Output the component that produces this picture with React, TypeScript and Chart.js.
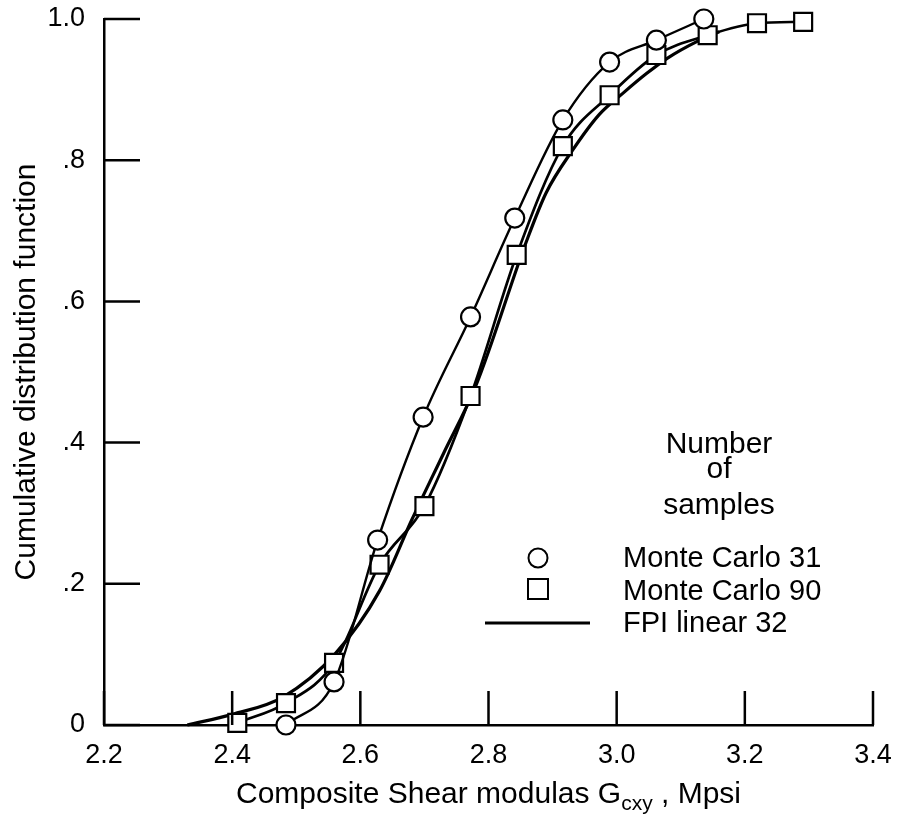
import React, { useEffect, useRef } from 'react';
import { Chart, registerables } from 'chart.js';

Chart.register(...registerables);

const FONT = '"Liberation Sans", Arial, Helvetica, sans-serif';

const xTicks = [2.2, 2.4, 2.6, 2.8, 3.0, 3.2, 3.4];
const xTickLabels = ['2.2', '2.4', '2.6', '2.8', '3.0', '3.2', '3.4'];
const yTicks = [0, 0.2, 0.4, 0.6, 0.8, 1.0];
const yTickLabels = ['0', '.2', '.4', '.6', '.8', '1.0'];

// Monte Carlo, 31 samples (circles)
const mc31X = [2.484, 2.559, 2.627, 2.698, 2.772, 2.841, 2.916, 2.989, 3.062, 3.136];
const mc31Y = [0.0, 0.061, 0.262, 0.436, 0.578, 0.718, 0.857, 0.939, 0.97, 1.0];

// Monte Carlo, 90 samples (squares)
const mc90X = [2.408, 2.484, 2.559, 2.63, 2.7, 2.772, 2.844, 2.916, 2.989, 3.062, 3.142, 3.219, 3.291];
const mc90Y = [0.003, 0.031, 0.088, 0.227, 0.31, 0.466, 0.666, 0.82, 0.892, 0.949, 0.977, 0.994, 0.996];

// FPI linear, 32 (solid curve)
const fpiX = [2.33, 2.4, 2.48, 2.56, 2.63, 2.68, 2.73, 2.78, 2.86, 2.89, 2.931, 2.973, 3.01, 3.047, 3.08, 3.125, 3.16];
const fpiY = [0.0, 0.015, 0.04, 0.1, 0.19, 0.29, 0.385, 0.48, 0.687, 0.754, 0.814, 0.865, 0.895, 0.923, 0.945, 0.968, 0.982];

const legendHeader = ['Number', 'of', 'samples'];
const legendLabels = ['Monte Carlo 31', 'Monte Carlo 90', 'FPI linear 32'];
const xTitleMain = 'Composite Shear modulas G';
const xTitleSub = 'cxy';
const xTitleEnd = ' , Mpsi';
const yTitle = 'Cumulative distribution function';

const toPts = (xs: number[], ys: number[]) => xs.map((x, i) => ({ x, y: ys[i] }));

const decorPlugin = {
  id: 'decor',
  afterDraw(chart: any) {
    const { ctx, chartArea, scales } = chart;
    const xs = scales.x;
    const ys = scales.y;
    ctx.save();
    ctx.strokeStyle = '#000';
    ctx.fillStyle = '#000';
    // inward tick marks
    ctx.lineWidth = 2.5;
    ctx.beginPath();
    xTicks.forEach((v) => {
      const px = xs.getPixelForValue(v);
      ctx.moveTo(px, chartArea.bottom);
      ctx.lineTo(px, chartArea.bottom - 34);
    });
    yTicks.forEach((v) => {
      const py = ys.getPixelForValue(v);
      ctx.moveTo(chartArea.left, py);
      ctx.lineTo(chartArea.left + 36, py);
    });
    ctx.stroke();

    // x-axis title with subscript
    const big = `30px ${FONT}`;
    const small = `21px ${FONT}`;
    ctx.font = big;
    const w1 = ctx.measureText(xTitleMain).width;
    const w3 = ctx.measureText(xTitleEnd).width;
    ctx.font = small;
    const w2 = ctx.measureText(xTitleSub).width;
    const total = w1 + w2 + w3;
    const cx = (chartArea.left + chartArea.right) / 2;
    let tx = cx - total / 2;
    const baseY = 803;
    ctx.textAlign = 'left';
    ctx.textBaseline = 'alphabetic';
    ctx.font = big;
    ctx.fillText(xTitleMain, tx, baseY);
    tx += w1;
    ctx.font = small;
    ctx.fillText(xTitleSub, tx, baseY + 7);
    tx += w2;
    ctx.font = big;
    ctx.fillText(xTitleEnd, tx, baseY);

    // y-axis title
    ctx.save();
    ctx.translate(27, (chartArea.top + chartArea.bottom) / 2);
    ctx.rotate(-Math.PI / 2);
    ctx.textAlign = 'center';
    ctx.textBaseline = 'middle';
    ctx.font = big;
    ctx.fillText(yTitle, 0, 0);
    ctx.restore();

    // legend
    ctx.font = `30px ${FONT}`;
    ctx.textAlign = 'center';
    ctx.textBaseline = 'alphabetic';
    const headBase = [453, 478, 514];
    legendHeader.forEach((t, i) => ctx.fillText(t, 719, headBase[i]));
    ctx.textAlign = 'left';
    ctx.font = `29px ${FONT}`;
    const rowBase = [567, 600, 632];
    legendLabels.forEach((t, i) => ctx.fillText(t, 623, rowBase[i]));
    ctx.lineWidth = 2;
    ctx.beginPath();
    ctx.arc(538, 558, 9.5, 0, Math.PI * 2);
    ctx.stroke();
    ctx.strokeRect(528, 579, 20, 20);
    ctx.lineWidth = 3;
    ctx.beginPath();
    ctx.moveTo(485, 623);
    ctx.lineTo(590, 623);
    ctx.stroke();
    ctx.restore();
  },
};

export default function App() {
  const ref = useRef<HTMLCanvasElement | null>(null);
  useEffect(() => {
    if (!ref.current) return;
    const tickFont = { family: FONT, size: 27 };
    const chart = new Chart(ref.current, {
      type: 'scatter',
      data: {
        datasets: [
          {
            label: 'Monte Carlo 31',
            data: toPts(mc31X, mc31Y),
            showLine: true,
            borderColor: '#000',
            borderWidth: 2.4,
            cubicInterpolationMode: 'monotone',
            pointStyle: 'circle',
            pointRadius: 9.5,
            pointBorderWidth: 2.2,
            pointBackgroundColor: '#fff',
            pointBorderColor: '#000',
            clip: false,
          },
          {
            label: 'Monte Carlo 90',
            data: toPts(mc90X, mc90Y),
            showLine: true,
            borderColor: '#000',
            borderWidth: 2.7,
            cubicInterpolationMode: 'monotone',
            pointStyle: 'rect',
            pointRadius: 12.7,
            pointBorderWidth: 2.2,
            pointBackgroundColor: '#fff',
            pointBorderColor: '#000',
            clip: false,
          },
          {
            label: 'FPI linear 32',
            data: toPts(fpiX, fpiY),
            showLine: true,
            borderColor: '#000',
            borderWidth: 3.2,
            cubicInterpolationMode: 'monotone',
            pointRadius: 0,
            clip: false,
          },
        ],
      } as any,
      options: {
        responsive: false,
        animation: false,
        events: [],
        layout: { padding: { left: 0, right: 25, top: 19, bottom: 0 } },
        plugins: {
          legend: { display: false },
          tooltip: { enabled: false },
          title: { display: false },
        },
        scales: {
          x: {
            type: 'linear',
            min: 2.2,
            max: 3.4,
            afterBuildTicks: (s: any) => {
              s.ticks = xTicks.map((v) => ({ value: v }));
            },
            afterFit: (s: any) => {
              s.height = 93;
            },
            ticks: {
              autoSkip: false,
              maxRotation: 0,
              padding: 0,
              color: '#000',
              font: tickFont,
              callback: (_v: any, i: number) => xTickLabels[i],
            },
            grid: {
              display: true,
              drawOnChartArea: false,
              drawTicks: true,
              tickLength: 14,
              tickColor: 'rgba(0,0,0,0)',
            },
            border: { display: true, color: '#000', width: 2.5 },
          },
          y: {
            type: 'linear',
            min: 0,
            max: 1,
            afterBuildTicks: (s: any) => {
              s.ticks = yTicks.map((v) => ({ value: v }));
            },
            afterFit: (s: any) => {
              s.width = 104;
            },
            ticks: {
              autoSkip: false,
              padding: 0,
              color: '#000',
              font: tickFont,
              callback: (_v: any, i: number) => yTickLabels[i],
            },
            grid: {
              display: true,
              drawOnChartArea: false,
              drawTicks: true,
              tickLength: 19,
              tickColor: 'rgba(0,0,0,0)',
            },
            border: { display: true, color: '#000', width: 2.5 },
          },
        },
      } as any,
      plugins: [decorPlugin],
    });
    return () => chart.destroy();
  }, []);
  return (
    <div style={{ position: 'absolute', left: 0, top: 0, width: 898, height: 818, background: '#fff' }}>
      <canvas ref={ref} width={898} height={818} style={{ display: 'block' }} />
    </div>
  );
}
